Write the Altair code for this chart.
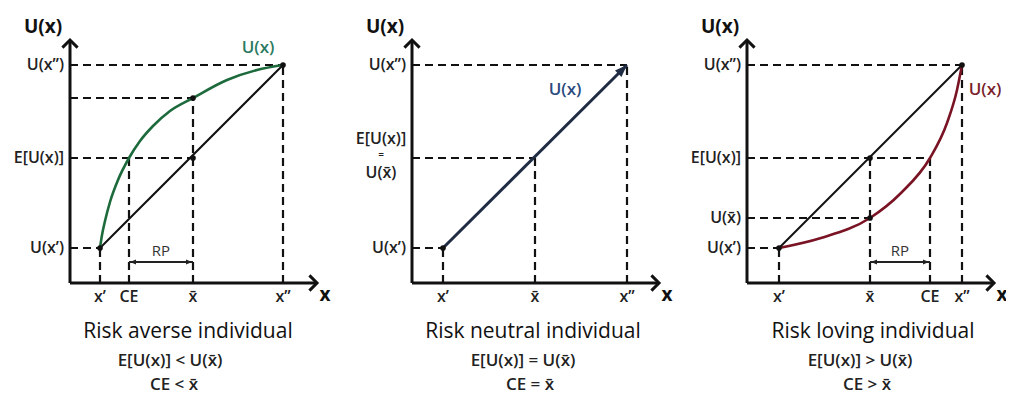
import altair as alt
import pandas as pd

# ---------------- values ----------------
# (units measured from each panel's axis origin, y upwards)
panels = ["averse", "neutral", "loving"]
x_lo = [30, 31, 32]        # x'
x_bar = [123, 123, 123]    # x-bar
x_hi = [213, 215, 215]     # x''
ce = [59, 123, 183]        # certainty equivalent
u_lo = [35, 35, 35]        # U(x')
eu = [125, 125, 125]       # E[U(x)]
u_bar = [185, 125, 65]     # U(x-bar)
u_hi = [218, 218, 218]     # U(x'')

averse_curve_x = [30, 32, 35, 40, 48, 59, 70, 83, 100, 123, 157, 187, 213]
averse_curve_y = [35, 48, 62, 81, 103, 125, 142, 157, 172, 185, 203, 213, 218]
loving_curve_x = [32, 74, 123, 154, 183, 200, 210, 215]
loving_curve_y = [35, 45, 65, 90, 125, 160, 193, 218]

XB = "x\u0304"
captions = ["Risk averse individual", "Risk neutral individual", "Risk loving individual"]
sub1 = ["E[U(x)] < U(" + XB + ")", "E[U(x)] = U(" + XB + ")", "E[U(x)] > U(" + XB + ")"]
sub2 = ["CE < " + XB, "CE = " + XB, "CE > " + XB]
xlab_lo, xlab_hi = "x\u2019", "x\u201d"
ylab_lo, ylab_hi = "U(x\u2019)", "U(x\u201d)"
eu_lab, ubar_lab = "E[U(x)]", "U(" + XB + ")"

# ---------------- layout / style ----------------
W, H = 998, 387
origin = [62, 404, 739]
axis_x_len, axis_y_len = 247, 243
cap_cx = [118, 121, 126]
sub1_cx = [100, 111, 113]
sub2_cx = [104, 118, 120]
curve_colors = {"averse": "#1d6a3c", "loving": "#7a1424"}
label_colors = {"averse": "#2a7a60", "neutral": "#2b4a7e", "loving": "#7a1f2b"}
FONT = "Open Sans"

xs = alt.Scale(domain=[0, W], nice=False, zero=False)
ys = alt.Scale(domain=[-112, 275], nice=False, zero=False)


def X(f="x"):
    return alt.X(f"{f}:Q", scale=xs, axis=None)


def Y(f="y"):
    return alt.Y(f"{f}:Q", scale=ys, axis=None)


# dashed guides
dash_rows = []
for i, p in enumerate(panels):
    o = origin[i]
    h = [(u_hi[i], x_hi[i]), (u_lo[i], x_lo[i])]
    v = [(x_lo[i], u_lo[i]), (x_hi[i], u_hi[i])]
    if p == "averse":
        h += [(u_bar[i], x_bar[i]), (eu[i], x_bar[i])]
        v += [(ce[i], eu[i]), (x_bar[i], u_bar[i])]
    elif p == "neutral":
        h += [(eu[i], x_bar[i])]
        v += [(x_bar[i], eu[i])]
    else:
        h += [(eu[i], ce[i]), (u_bar[i], x_bar[i])]
        v += [(x_bar[i], eu[i]), (ce[i], eu[i])]
    for lvl, end in h:
        dash_rows.append(dict(x=o, y=lvl, x2=o + end, y2=lvl))
    for pos, top in v:
        dash_rows.append(dict(x=o + pos, y=0, x2=o + pos, y2=top))
dash_df = pd.DataFrame(dash_rows)

# axes
axis_rows, head_rows = [], []
for o in origin:
    axis_rows.append(dict(x=o, y=0, x2=o + axis_x_len, y2=0))
    axis_rows.append(dict(x=o, y=0, x2=o, y2=axis_y_len))
    head_rows.append(dict(x=o + axis_x_len, y=0, shape="M-1,-1L0,0L-1,1"))
    head_rows.append(dict(x=o, y=axis_y_len, shape="M-1,1L0,0L1,1"))
axis_df = pd.DataFrame(axis_rows)
head_df = pd.DataFrame(head_rows)

# chords
chord_df = pd.DataFrame([
    dict(x=origin[i] + x_lo[i], y=u_lo[i], x2=origin[i] + x_hi[i], y2=u_hi[i])
    for i in (0, 2)
])
neutral_df = pd.DataFrame([dict(x=origin[1] + x_lo[1], y=u_lo[1], x2=origin[1] + x_hi[1], y2=u_hi[1])])
neutral_head = pd.DataFrame([dict(x=origin[1] + x_hi[1], y=u_hi[1])])

# curves
curve_rows = []
for k, (cx, cy) in enumerate(zip(averse_curve_x, averse_curve_y)):
    curve_rows.append(dict(panel="averse", i=k, x=origin[0] + cx, y=cy, c=curve_colors["averse"]))
for k, (cx, cy) in enumerate(zip(loving_curve_x, loving_curve_y)):
    curve_rows.append(dict(panel="loving", i=k, x=origin[2] + cx, y=cy, c=curve_colors["loving"]))
curve_df = pd.DataFrame(curve_rows)

# dots
dot_rows = []
for i, p in enumerate(panels):
    o = origin[i]
    dot_rows.append(dict(x=o + x_lo[i], y=u_lo[i]))
    if p != "neutral":
        dot_rows.append(dict(x=o + x_hi[i], y=u_hi[i]))
        dot_rows.append(dict(x=o + x_bar[i], y=u_bar[i]))
        dot_rows.append(dict(x=o + x_bar[i], y=eu[i]))
dot_df = pd.DataFrame(dot_rows)

# RP arrows
rp_y = 21
rp_rows, rp_heads, rp_text = [], [], []
for i in (0, 2):
    o = origin[i]
    a, b = sorted([ce[i], x_bar[i]])
    rp_rows.append(dict(x=o + a, y=rp_y, x2=o + b, y2=rp_y))
    rp_heads.append(dict(x=o + a + 1, y=rp_y, shape="M0,0L1.7,-0.7L1.7,0.7Z"))
    rp_heads.append(dict(x=o + b - 1, y=rp_y, shape="M0,0L-1.7,-0.7L-1.7,0.7Z"))
    rp_text.append(dict(x=o + (a + b) / 2, y=rp_y + 11, t="RP"))
rp_df, rp_head_df, rp_text_df = pd.DataFrame(rp_rows), pd.DataFrame(rp_heads), pd.DataFrame(rp_text)

# y tick labels (right aligned)
ylab_rows = []
for i, p in enumerate(panels):
    o = origin[i] - 6
    ylab_rows.append(dict(x=o, y=u_hi[i], t=ylab_hi))
    ylab_rows.append(dict(x=o, y=u_lo[i], t=ylab_lo))
    if p != "neutral":
        ylab_rows.append(dict(x=o, y=eu[i], t=eu_lab))
    if p == "loving":
        ylab_rows.append(dict(x=o, y=u_bar[i], t=ubar_lab))
ylab_df = pd.DataFrame(ylab_rows)
stack_df = pd.DataFrame([
    dict(x=origin[1] - 31, y=eu[1] + 19, t=eu_lab, s=16),
    dict(x=origin[1] - 31, y=eu[1] + 3, t="=", s=10),
    dict(x=origin[1] - 31, y=eu[1] - 15, t=ubar_lab, s=16),
])

# x tick labels
xlab_rows = []
for i, p in enumerate(panels):
    o = origin[i]
    xlab_rows += [dict(x=o + x_lo[i], y=-14, t=xlab_lo), dict(x=o + x_bar[i], y=-14, t=XB),
                  dict(x=o + x_hi[i], y=-14, t=xlab_hi)]
    if p != "neutral":
        xlab_rows.append(dict(x=o + ce[i], y=-14, t="CE"))
xlab_df = pd.DataFrame(xlab_rows)

# axis titles
title_rows = []
for o in origin:
    title_rows.append(dict(x=o - 27, y=256, t="U(x)"))
    title_rows.append(dict(x=o + 255, y=-12, t="x"))
title_df = pd.DataFrame(title_rows)

# curve labels
clab_df = pd.DataFrame([
    dict(x=origin[0] + 188, y=235, t="U(x)", c=label_colors["averse"]),
    dict(x=origin[1] + 153, y=193, t="U(x)", c=label_colors["neutral"]),
    dict(x=origin[2] + 238, y=193, t="U(x)", c=label_colors["loving"]),
])

cap_df = pd.DataFrame([dict(x=origin[i] + cap_cx[i], y=-49, t=captions[i]) for i in range(3)])
sub_df = pd.DataFrame(
    [dict(x=origin[i] + sub1_cx[i], y=-78, t=sub1[i]) for i in range(3)]
    + [dict(x=origin[i] + sub2_cx[i], y=-102, t=sub2[i]) for i in range(3)]
)

layers = [
    alt.Chart(dash_df).mark_rule(strokeDash=[8, 5], strokeWidth=2.2, color="#111")
    .encode(x=X(), y=Y(), x2="x2:Q", y2="y2:Q"),
    alt.Chart(chord_df).mark_rule(strokeWidth=2, color="#111")
    .encode(x=X(), y=Y(), x2="x2:Q", y2="y2:Q"),
    alt.Chart(neutral_df).mark_rule(strokeWidth=3, color="#1f2c44")
    .encode(x=X(), y=Y(), x2="x2:Q", y2="y2:Q"),
    alt.Chart(neutral_head).mark_point(shape="M0,0L-0.7,1.9L0.7,1.9Z", filled=True, size=170,
                                       angle=45, color="#1f2c44", opacity=1)
    .encode(x=X(), y=Y()),
    alt.Chart(curve_df).mark_line(strokeWidth=2.6, interpolate="monotone")
    .encode(x=X(), y=Y(), detail="panel:N", order="i:Q", color=alt.Color("c:N", scale=None)),
    alt.Chart(axis_df).mark_rule(strokeWidth=3, color="#111")
    .encode(x=X(), y=Y(), x2="x2:Q", y2="y2:Q"),
    alt.Chart(head_df).mark_point(filled=False, size=230, strokeWidth=3, color="#111", opacity=1)
    .encode(x=X(), y=Y(), shape=alt.Shape("shape:N", scale=None)),
    alt.Chart(dot_df).mark_circle(size=32, color="#111", opacity=1).encode(x=X(), y=Y()),
    alt.Chart(rp_df).mark_rule(strokeWidth=2, color="#222")
    .encode(x=X(), y=Y(), x2="x2:Q", y2="y2:Q"),
    alt.Chart(rp_head_df).mark_point(filled=True, size=50, color="#222", opacity=1)
    .encode(x=X(), y=Y(), shape=alt.Shape("shape:N", scale=None)),
    alt.Chart(rp_text_df).mark_text(font=FONT, fontSize=15, color="#333", baseline="middle")
    .encode(x=X(), y=Y(), text="t:N"),
    alt.Chart(ylab_df).mark_text(font=FONT, fontSize=16, fontWeight=600, align="right",
                                 baseline="middle", color="#222")
    .encode(x=X(), y=Y(), text="t:N"),
    alt.Chart(stack_df).mark_text(font=FONT, fontWeight=600, align="center",
                                  baseline="middle", color="#222")
    .encode(x=X(), y=Y(), text="t:N", size=alt.Size("s:Q", scale=None)),
    alt.Chart(xlab_df).mark_text(font=FONT, fontSize=16, fontWeight=600, align="center",
                                 baseline="middle", color="#222")
    .encode(x=X(), y=Y(), text="t:N"),
    alt.Chart(title_df).mark_text(font=FONT, fontSize=19, fontWeight="bold", align="center",
                                  baseline="middle", color="#111")
    .encode(x=X(), y=Y(), text="t:N"),
    alt.Chart(clab_df).mark_text(font=FONT, fontSize=17, fontWeight=600, align="center",
                                 baseline="middle")
    .encode(x=X(), y=Y(), text="t:N", color=alt.Color("c:N", scale=None)),
    alt.Chart(cap_df).mark_text(font=FONT, fontSize=21, fontWeight=500, align="center",
                                baseline="middle", color="#111")
    .encode(x=X(), y=Y(), text="t:N"),
    alt.Chart(sub_df).mark_text(font=FONT, fontSize=17, fontWeight=600, align="center",
                                baseline="middle", color="#222")
    .encode(x=X(), y=Y(), text="t:N"),
]

chart = alt.layer(*layers).properties(
    width=W, height=H, padding=0, autosize=alt.AutoSizeParams(type="none")
).configure_view(stroke=None)

chart.save("out.html", embed_options={"renderer": "svg", "actions": False})
